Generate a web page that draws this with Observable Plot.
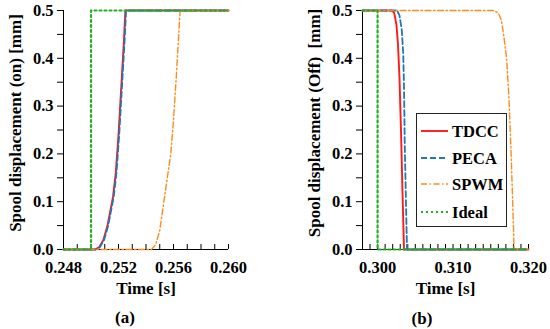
<!DOCTYPE html>
<html><head><meta charset="utf-8">
<script src="https://cdn.jsdelivr.net/npm/d3@7"></script>
<script src="https://cdn.jsdelivr.net/npm/@observablehq/plot@0.6"></script>
<style>
body{margin:0;background:#fff;}
#wrap{position:relative;width:550px;height:329px;font-family:"Liberation Serif","DejaVu Serif",serif;font-weight:bold;color:#000;overflow:hidden;}
.panel{position:absolute;top:0;}
.panel text{font-family:"Liberation Serif","DejaVu Serif",serif !important;font-weight:bold;}
.cap{position:absolute;font-size:17px;transform:translate(-50%,-50%);white-space:nowrap;}
#legend{position:absolute;left:416px;top:113px;width:91px;height:114px;border:1px solid #222;background:#fff;box-sizing:border-box;}
#legend text{font-family:"Liberation Serif","DejaVu Serif",serif;font-weight:bold;font-size:16.5px;}
</style></head><body><div id="wrap"></div>
<script>
// ---------- data ----------
const seriesNames = ["TDCC", "PECA", "SPWM", "Ideal"];
const seriesColors = ["#ff1a1a", "#1f78b4", "#ff8c1a", "#22b022"];

// Panel (a): spool displacement (on)
const onTdccT = [0.248, 0.2503, 0.2506, 0.2509, 0.2512, 0.2514, 0.2516, 0.2518, 0.2520, 0.2522, 0.2524, 0.2525, 0.260];
const onTdccY = [0, 0, 0.005, 0.02, 0.05, 0.08, 0.11, 0.16, 0.24, 0.34, 0.44, 0.5, 0.5];
const onPecaT = [0.248, 0.25035, 0.25065, 0.25095, 0.25125, 0.25145, 0.25165, 0.25185, 0.25205, 0.25225, 0.25245, 0.25255, 0.260];
const onPecaY = [0, 0, 0.005, 0.02, 0.05, 0.08, 0.11, 0.16, 0.24, 0.34, 0.44, 0.5, 0.5];
const onSpwmT = [0.248, 0.2544, 0.2547, 0.2550, 0.2553, 0.2556, 0.2558, 0.2560, 0.2562, 0.2564, 0.25648, 0.260];
const onSpwmY = [0, 0, 0.01, 0.04, 0.1, 0.16, 0.2, 0.27, 0.36, 0.46, 0.5, 0.5];
const onIdealT = [0.248, 0.250, 0.250, 0.260];
const onIdealY = [0, 0, 0.5, 0.5];

// Panel (b): spool displacement (off)
const offTdccT = [0.298, 0.3019, 0.3022, 0.3025, 0.3027, 0.3029, 0.3031, 0.3033, 0.3035, 0.320];
const offTdccY = [0.5, 0.5, 0.495, 0.47, 0.43, 0.36, 0.25, 0.12, 0, 0];
const offPecaT = [0.298, 0.3026, 0.3029, 0.3032, 0.3034, 0.3035, 0.3036, 0.3038, 0.3039, 0.320];
const offPecaY = [0.5, 0.5, 0.49, 0.46, 0.41, 0.34, 0.22, 0.07, 0, 0];
const offSpwmT = [0.298, 0.3153, 0.3160, 0.3164, 0.3167, 0.3171, 0.3174, 0.3177, 0.3179, 0.3181, 0.320];
const offSpwmY = [0.5, 0.5, 0.495, 0.48, 0.45, 0.4, 0.32, 0.2, 0.1, 0, 0];
const offIdealT = [0.298, 0.300, 0.300, 0.320];
const offIdealY = [0.5, 0.5, 0, 0];

// axes
const onXDomain = [0.248, 0.260];
const onXTickLabels = [0.248, 0.252, 0.256, 0.260];
const offXDomain = [0.298, 0.320];
const offXTickLabels = [0.300, 0.310, 0.320];
const yDomain = [0, 0.5];
const yTickLabels = [0, 0.1, 0.2, 0.3, 0.4, 0.5];
const xMinorStep = 0.001;
const yMinorStep = 0.05;
const onYLabel = "Spool displacement (on) [mm]";
const offYLabel = "Spool displacement (Off)  [mm]";
const xLabel = "Time [s]";

// ---------- styles ----------
const lineStyles = [
  {strokeWidth: 1.9},
  {strokeWidth: 1.8, strokeDasharray: "6,3"},
  {strokeWidth: 1.4, strokeDasharray: "6,2.5,1.5,2.5"},
  {strokeWidth: 2.2, strokeDasharray: "2,3"}
];

function rows(T, Y) { return T.map((t, i) => ({t, v: Y[i]})); }

function panel({data, xDomain, xTickLabels, yLabel, left, width, marginLeft, marginRight}) {
  const H = 300, mt = 10, mb = 51;
  const frameH = H - mt - mb;
  const minor = d3.range(Math.round((xDomain[1] - xDomain[0]) / xMinorStep) + 1).map(i => +(xDomain[0] + i * xMinorStep).toFixed(4));
  const yMinor = d3.range(Math.round((yDomain[1] - yDomain[0]) / yMinorStep) + 1).map(i => +(i * yMinorStep).toFixed(3));
  const isLabel = d => yTickLabels.some(v => Math.abs(v - d) < 1e-9);
  const marks = [
    Plot.ruleX(minor, {x: d => d, insetTop: frameH - 5, stroke: "#000", strokeWidth: 1}),
    Plot.axisX(xTickLabels, {tickSize: 0, tickPadding: 12, tickFormat: d3.format(".3f"), label: null, fontSize: 16.5}),
    Plot.axisY(yMinor, {tickSize: 6, tickPadding: 4, tickFormat: d => isLabel(d) ? d.toFixed(1) : "", label: null, fontSize: 16.5, stroke: "#000"}),
    Plot.ruleY([yDomain[0]], {stroke: "#000", strokeWidth: 1}),
    Plot.ruleX([xDomain[0]], {stroke: "#000", strokeWidth: 1}),
    ...data.map((d, i) => Plot.line(d, {x: "t", y: "v", stroke: seriesColors[i], ...lineStyles[i]})),
    Plot.text([yLabel], {text: d => d, frameAnchor: "left", textAnchor: "middle", lineAnchor: "middle", rotate: -90, dx: -48, dy: -7, fontSize: 17, fill: "#000"}),
    Plot.text([xLabel], {text: d => d, frameAnchor: "bottom", textAnchor: "middle", lineAnchor: "middle", dy: 39, fontSize: 17, fill: "#000"})
  ];
  const p = Plot.plot({
    width, height: H, marginTop: mt, marginBottom: mb, marginLeft, marginRight,
    x: {domain: xDomain}, y: {domain: yDomain},
    style: {fontFamily: "'Liberation Serif', 'DejaVu Serif', serif", fontWeight: "bold", fontSize: "16px", color: "#000", background: "transparent", overflow: "visible"},
    marks
  });
  p.classList.add("panel");
  p.style.left = left + "px";
  return p;
}

const wrap = document.getElementById("wrap");
wrap.appendChild(panel({
  data: [rows(onTdccT, onTdccY), rows(onPecaT, onPecaY), rows(onSpwmT, onSpwmY), rows(onIdealT, onIdealY)],
  xDomain: onXDomain, xTickLabels: onXTickLabels, yLabel: onYLabel,
  left: 0, width: 275, marginLeft: 63, marginRight: 47
}));
wrap.appendChild(panel({
  data: [rows(offTdccT, offTdccY), rows(offPecaT, offPecaY), rows(offSpwmT, offSpwmY), rows(offIdealT, offIdealY)],
  xDomain: offXDomain, xTickLabels: offXTickLabels, yLabel: offYLabel,
  left: 275, width: 275, marginLeft: 87, marginRight: 22
}));

// captions
[["(a)", 125, 318], ["(b)", 422, 319]].forEach(([t, x, y]) => {
  const d = document.createElement("div");
  d.className = "cap"; d.textContent = t;
  d.style.left = x + "px"; d.style.top = y + "px";
  wrap.appendChild(d);
});

// legend
const leg = document.createElement("div");
leg.id = "legend";
wrap.appendChild(leg);
const ls = d3.select(leg).append("svg").attr("width", 89).attr("height", 112);
const legY = [17, 44, 70, 98];
seriesNames.forEach((name, i) => {
  const st = lineStyles[i];
  ls.append("line").attr("x1", 4).attr("x2", 31).attr("y1", legY[i]).attr("y2", legY[i])
    .attr("stroke", seriesColors[i]).attr("stroke-width", st.strokeWidth)
    .attr("stroke-dasharray", st.strokeDasharray || null);
  ls.append("text").attr("x", 35).attr("y", legY[i]).attr("dy", "0.35em").text(name);
});
</script>
</body></html>
